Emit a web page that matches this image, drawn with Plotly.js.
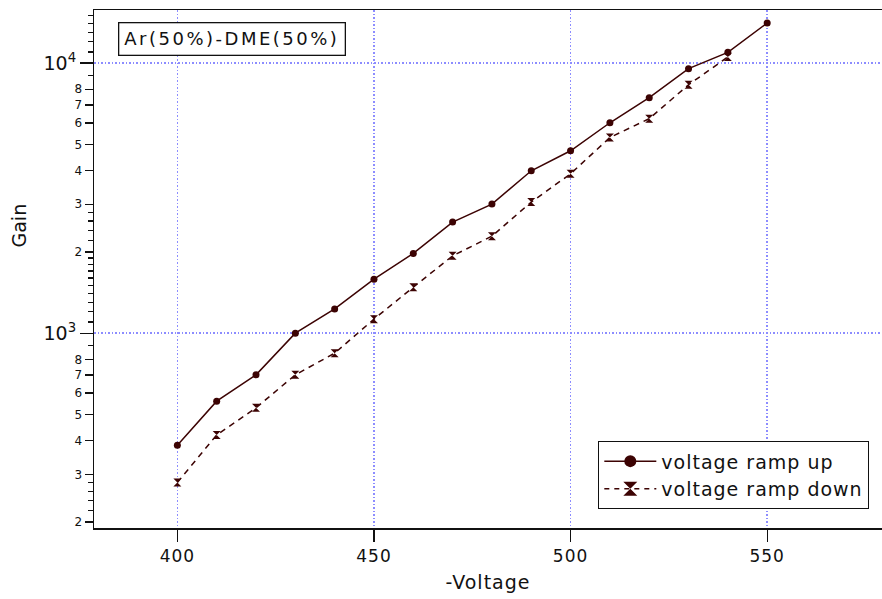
<!DOCTYPE html>
<html>
<head>
<meta charset="utf-8">
<script src="https://cdn.plot.ly/plotly-3.0.1.min.js"></script>
<style>html,body{margin:0;padding:0;background:#fff;}#chart{width:882px;height:599px;}</style>
</head>
<body>
<div id="chart"></div>
<script>
// Data
const voltageUp = [400, 410, 420, 430, 440, 450, 460, 470, 480, 490, 500, 510, 520, 530, 540, 550];
const gainUp = [385, 560, 701, 1000, 1230, 1585, 1973, 2577, 3004, 3991, 4733, 6010, 7441, 9530, 10955, 14060];
const voltageDown = [400, 410, 420, 430, 440, 450, 460, 470, 480, 490, 500, 510, 520, 530, 540];
const gainDown = [280, 420, 529, 701, 843, 1127, 1480, 1933, 2286, 3057, 3890, 5302, 6222, 8310, 10530];

const xTickVals = [400, 450, 500, 550];
const yTickVals = [200, 300, 400, 500, 600, 700, 800, 2000, 3000, 4000, 5000, 6000, 7000, 8000];
const yTickText = ['2', '3', '4', '5', '6', '7', '8', '2', '3', '4', '5', '6', '7', '8'];
const yDecades = [1000, 10000];
const yDecadeText = ['10<sup>3</sup>', '10<sup>4</sup>'];
const yMinorVals = [220, 240, 260, 280, 900, 1100, 1200, 1300, 1400, 1500, 1600, 1700, 1800, 1900,
  2200, 2400, 2600, 2800, 9000, 11000, 12000, 13000, 14000, 15000];

const seriesNames = ['voltage ramp up', 'voltage ramp down'];
const annotationText = 'Ar(50%)-DME(50%)';
const xTitle = '-Voltage';
const yTitle = 'Gain';

const dark = '#3c0303';
const font = 'DejaVu Sans, Arial, sans-serif';
const ls = (s, px) => '<span style="letter-spacing:' + px + 'px">' + s + '</span>';
const yRange = [Math.log10(190), 4.1963];
const gridBlue = '#8c8cff';

const traces = [
  {
    x: voltageUp, y: gainUp, name: seriesNames[0], type: 'scatter', mode: 'lines+markers',
    line: {color: dark, width: 1.5}, showlegend: false,
    marker: {symbol: 'circle', size: 7, color: dark}
  },
  {
    x: voltageDown, y: gainDown, name: seriesNames[1], type: 'scatter', mode: 'lines+markers',
    line: {color: dark, width: 1.5, dash: '6px,5px'}, showlegend: false,
    marker: {symbol: 'hourglass', size: 8, color: dark}
  },
  // legend entries (larger symbols, as in the reference legend)
  {
    x: [null], y: [null], name: ls(seriesNames[0], 1), type: 'scatter', mode: 'lines+markers',
    line: {color: dark, width: 1.5}, marker: {symbol: 'circle', size: 12, color: dark}
  },
  {
    x: [null], y: [null], name: ls(seriesNames[1], 1), type: 'scatter', mode: 'lines+markers',
    line: {color: dark, width: 1.5, dash: '5px,5px'}, marker: {symbol: 'hourglass', size: 14, color: dark}
  },
  {
    x: [voltageUp[0]], y: [gainUp[0]], yaxis: 'y2', type: 'scatter', mode: 'markers',
    marker: {opacity: 0}, showlegend: false, hoverinfo: 'skip'
  }
];

const layout = {
  width: 882, height: 599,
  margin: {l: 94, r: 0, t: 10, b: 71},
  paper_bgcolor: '#fff', plot_bgcolor: '#fff',
  font: {family: font, color: '#111', size: 17},
  showlegend: true,
  xaxis: {
    range: [378.8, 579.2],
    tickmode: 'array', tickvals: xTickVals, ticktext: xTickVals.map(v => ls(String(v), 1)),
    ticks: 'outside', ticklen: 12, tickwidth: 1.3, tickcolor: '#111',
    tickfont: {size: 17, family: font, color: '#111'},
    showline: true, linecolor: '#111', linewidth: 1.5, mirror: true,
    showgrid: true, gridcolor: gridBlue, gridwidth: 1.6, griddash: '1.5px,2px',
    zeroline: false,
    title: {text: ls(xTitle, 1), font: {size: 19, family: font, color: '#111'}, standoff: 11}
  },
  yaxis: {
    type: 'log', range: yRange,
    tickmode: 'array', tickvals: yTickVals, ticktext: yTickText,
    ticks: 'outside', ticklen: 8, tickwidth: 1.3, tickcolor: '#111',
    tickfont: {size: 12, family: font, color: '#111'},
    showline: true, linecolor: '#111', linewidth: 1.5,
    showgrid: false, zeroline: false,
    minor: {tickmode: 'array', tickvals: yMinorVals, ticks: 'outside', ticklen: 5, tickwidth: 1.3, tickcolor: '#111', showgrid: false}
  },
  yaxis2: {
    type: 'log', range: yRange, overlaying: 'y', side: 'left',
    tickmode: 'array', tickvals: yDecades, ticktext: yDecadeText,
    ticks: 'outside', ticklen: 13, tickwidth: 1.3, tickcolor: '#111',
    tickfont: {size: 19, family: font, color: '#111'},
    showticklabels: true, showline: false,
    showgrid: true, gridcolor: gridBlue, gridwidth: 1.6, griddash: '1.5px,2px',
    zeroline: false
  },
  legend: {
    x: 0.6396, y: 0.168, xanchor: 'left', yanchor: 'top',
    bgcolor: '#fff', bordercolor: '#111', borderwidth: 1.3,
    font: {size: 19, family: font, color: '#111'},
    itemwidth: 52, tracegroupgap: 0
  },
  annotations: [
    {
      text: ls(annotationText, 2.5), xref: 'paper', yref: 'paper',
      x: 0.0305, y: 0.977, xanchor: 'left', yanchor: 'top',
      showarrow: false, bordercolor: '#111', borderwidth: 1.3, borderpad: 5,
      bgcolor: '#fff', font: {size: 18, family: font, color: '#111'}
    },
    {
      text: yTitle, xref: 'paper', yref: 'paper',
      x: -0.0958, y: 0.583, xanchor: 'center', yanchor: 'middle', textangle: -90,
      showarrow: false, font: {size: 19, family: font, color: '#111'}
    }
  ]
};

Plotly.newPlot('chart', traces, layout, {displayModeBar: false, staticPlot: true});
</script>
</body>
</html>
